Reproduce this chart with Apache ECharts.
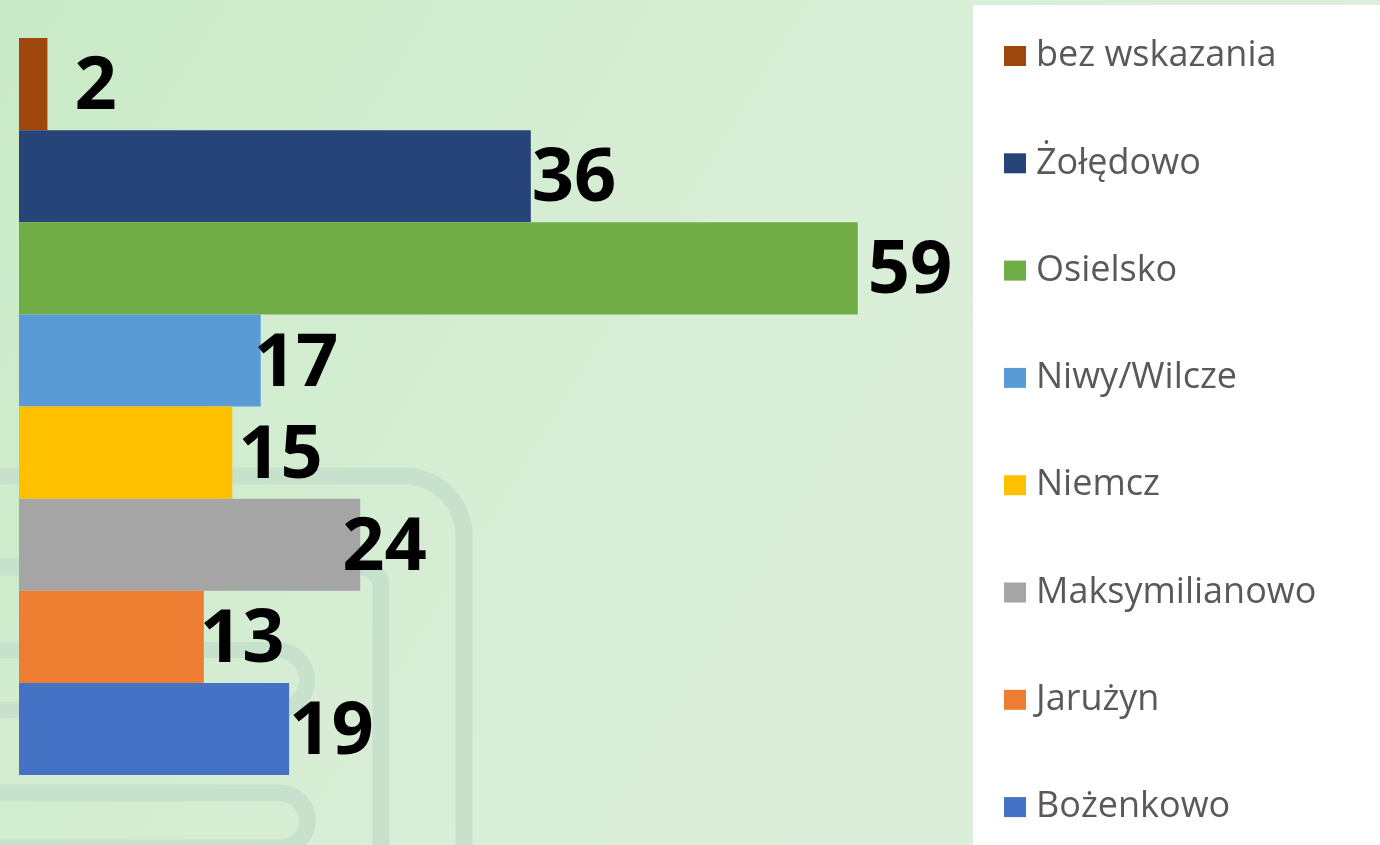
<!DOCTYPE html>
<html>
<head>
<meta charset="utf-8">
<script src="https://cdn.jsdelivr.net/npm/echarts@6/dist/echarts.min.js"></script>
<style>
html,body{margin:0;padding:0;width:1380px;height:845px;overflow:hidden;}
#chart{width:1380px;height:845px;}
</style>
</head>
<body>
<div id="chart"></div>
<script>
// ---- data ----
const categories = ['bez wskazania', 'Żołędowo', 'Osielsko', 'Niwy/Wilcze', 'Niemcz', 'Maksymilianowo', 'Jarużyn', 'Bożenkowo'];
const values = [2, 36, 59, 17, 15, 24, 13, 19];
const colors = ['#9E480E', '#264478', '#70AD47', '#5B9BD5', '#FFC000', '#A5A5A5', '#ED7D31', '#4472C4'];
// ---- style: label nudges (px) ----
const labelNudgeX = [27, 1, 10, -7, 6, -18, -4, 0];

const chart = echarts.init(document.getElementById('chart'), null, {renderer: 'canvas'});

const series = categories.map((name, i) => ({
  name: name,
  type: 'bar',
  stack: 'all',
  barCategoryGap: '0%',
  barGap: '0%',
  itemStyle: {color: colors[i]},
  label: {
    show: true,
    position: 'right',
    distance: 0,
    offset: [labelNudgeX[i], 4],
    fontSize: 74,
    fontWeight: 'bold',
    fontFamily: 'Open Sans',
    color: '#000'
  },
  data: categories.map((c, j) => (j === i ? values[i] : '-'))
}));

// decorative background road strokes
const deco = '#c8e1cc';
function ln(x1, y1, x2, y2, w) {
  return {type: 'line', z: -10, silent: true, shape: {x1, y1, x2, y2}, style: {stroke: deco, lineWidth: w}};
}
function ar(cx, cy, r, s, e, w) {
  return {type: 'arc', z: -10, silent: true, shape: {cx, cy, r, startAngle: s, endAngle: e, clockwise: true}, style: {stroke: deco, lineWidth: w, fill: null}};
}
const P = Math.PI;
const decoration = [
  ln(-20, 476, 404, 476, 17), ar(404, 536, 60, -P / 2, 0, 17), ln(464, 536, 464, 880, 17),
  ln(-20, 567, 361, 567, 17), ar(361, 587, 20, -P / 2, 0, 17), ln(381, 587, 381, 880, 17),
  ln(-20, 650, 277, 650, 16), ar(277, 680, 30, -P / 2, P / 2, 16), ln(277, 710, -20, 710, 16),
  ln(-20, 793, 280, 793, 17), ar(280, 820.5, 27.5, -P / 2, P / 2, 17), ln(280, 848, -20, 848, 17),
  {type: 'rect', z: -5, silent: true, shape: {x: 973, y: 5, width: 420, height: 850}, style: {fill: '#ffffff'}}
];

chart.setOption({
  backgroundColor: {
    type: 'linear', x: 0, y: 0, x2: 1, y2: 1,
    colorStops: [
      {offset: 0, color: '#c9eac6'},
      {offset: 0.45, color: '#d8eed6'},
      {offset: 1, color: '#dfefdd'}
    ]
  },
  animation: false,
  graphic: {elements: decoration},
  grid: {left: 19, top: 38, width: 853, height: 737, containLabel: false},
  xAxis: {
    type: 'value', min: 0, max: 60,
    show: false
  },
  yAxis: {
    type: 'category',
    data: categories,
    inverse: true,
    axisLine: {show: false},
    axisTick: {show: false},
    axisLabel: {show: false},
    splitLine: {show: false}
  },
  legend: {
    orient: 'vertical',
    left: 999,
    top: 31,
    icon: 'rect',
    itemWidth: 22,
    itemHeight: 20,
    itemGap: 67.3,
    data: categories,
    textStyle: {
      fontFamily: 'Open Sans',
      fontSize: 36,
      color: '#595959',
      lineHeight: 40,
      padding: [0, 0, 0, 5]
    }
  },
  series: series
});
</script>
</body>
</html>
